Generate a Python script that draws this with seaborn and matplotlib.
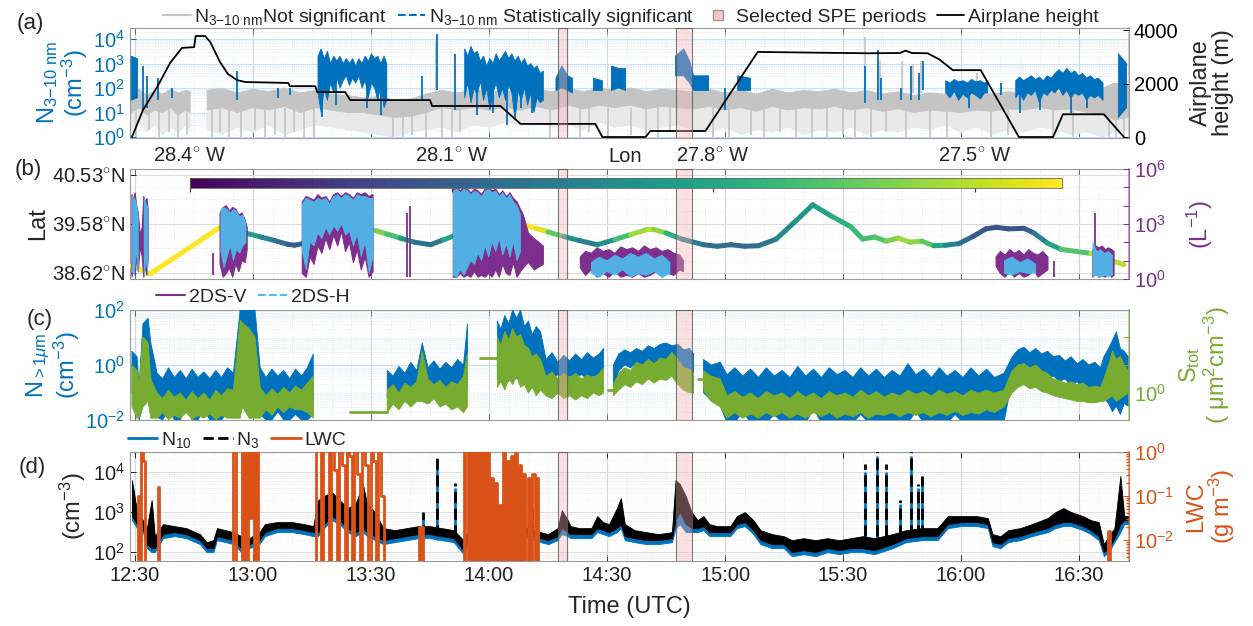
import numpy as np
import matplotlib
matplotlib.use("Agg")
import matplotlib.pyplot as plt
import seaborn as sns
from matplotlib.collections import LineCollection
from matplotlib.lines import Line2D
from matplotlib.ticker import FixedLocator, FixedFormatter, LogLocator, NullFormatter, MultipleLocator
import matplotlib.colors as mcolors
import matplotlib.cm as cm

nan = np.nan

# ---------------- data (time = minutes after 12:00 UTC, *_log = log10 of value) ----------------
time_ticks = [30, 60, 90, 120, 150, 180, 210, 240, 270]
time_labels = ["12:30", "13:00", "13:30", "14:00", "14:30", "15:00", "15:30", "16:00", "16:30"]
spe_start = [137.6, 167.4]
spe_end = [139.9, 171.7]

# (a) N3-10 not significant (grey): upper edge, dense-core lower edge, sparse floor
gray_t = [29, 31, 33, 35, 37, 39, 41, 43, 44, nan, 48.3, 52, 56, 60, 64, 68, 72, 76, 80, 84, 88, 92, 96, 100,
          104, 108, 112, 116, 120, 124, 128, 132, 136, 140, 144, 148, 152, 156, 160, 164, 168, 172, 176, 180, 184,
          188, 192, 196, 200, 204, 208, 212, 216, 220, 224, 228, 232, 236, 240, 244, 248, 252, 256, 260, 264, 268,
          272, 276, 279, 282.5]
gray_hi_log = [1.8, 1.95, 1.7, 1.9, 1.75, 1.95, 1.8, 1.9, 1.85, nan,
               1.9, 2.0, 1.8, 1.95, 1.85, 2.0, 1.8, 1.9, 1.75, 1.7, 1.6, 1.65, 1.5, 1.55, 1.75, 1.9, 1.8, 1.95,
               1.85, 1.9, 1.8, 1.95, 1.85, 2.0, 1.85, 2.0, 1.9, 2.0, 1.85, 1.95, 1.9, 1.85, 1.95, 1.8, 1.9, 1.75,
               1.95, 1.8, 1.9, 1.85, 1.95, 1.8, 1.9, 1.75, 1.85, 1.7, 1.8, 1.75, 1.7, 1.8, 1.75, 1.85, 1.8, 1.9,
               1.8, 1.85, 1.9, 2.0, 2.2, 2.1]
gray_core_log = [1.0, 1.2, 0.9, 1.1, 1.0, 1.2, 0.9, 1.1, 1.0, nan,
                 1.1, 1.2, 1.0, 1.2, 1.1, 1.25, 1.0, 1.2, 1.1, 1.0, 1.0, 0.9, 0.8, 0.85, 1.0, 1.2, 1.1, 1.2, 1.1,
                 1.2, 1.1, 1.25, 1.1, 1.3, 1.15, 1.3, 1.2, 1.3, 1.15, 1.25, 1.2, 1.15, 1.25, 1.1, 1.2, 1.05, 1.25,
                 1.1, 1.2, 1.15, 1.25, 1.1, 1.2, 1.05, 1.15, 1.0, 1.1, 1.05, 1.0, 1.1, 1.05, 1.15, 1.1, 1.2, 1.1,
                 1.15, 1.0, 0.9, 0.7, 0.8]
gray_floor_log = [0.3, 0.6, 0.2, 0.5, 0.1, 0.4, 0.2, 0.5, 0.3, nan,
                  0.3, 0.1, 0.4, 0.2, 0.5, 0.1, 0.3, 0.5, 0.4, 0.3, 0.2, 0.1, 0.0, 0.2, 0.3, 0.4, 0.2, 0.5, 0.4,
                  0.6, 0.5, 0.6, 0.4, 0.5, 0.3, 0.6, 0.4, 0.5, 0.3, 0.4, 0.5, 0.3, 0.2, 0.4, 0.1, 0.3, 0.2, 0.4,
                  0.1, 0.3, 0.2, 0.4, 0.1, 0.3, 0.2, 0.4, 0.3, 0.5, 0.2, 0.4, 0.1, 0.3, 0.2, 0.4, 0.3, 0.1, 0.2,
                  0.0, 0.2, 0.3]
gray_dip_t = [30.2, 33.5, 36, 38.5, 41, 43.2, 49.5, 51.5, 53.8, 57, 60.5, 63, 65.5, 68, 70.5, 73, 75.5, 95.5, 98,
              100.5, 104, 108, 110.5, 112.5, 135.5, 143, 145.5, 150.3, 156, 160, 163, 166, 177, 181, 186.5, 190,
              194, 198, 202, 206, 210, 213, 217, 221, 226, 232, 236.5, 247.5, 252, 263.5, 268.5, 277.5, 279.5, 281.5]
gray_dip_log = [0.0, 0.3, 0.0, 0.2, 0.0, 0.1, 0.0, 0.2, 0.0, 0.0, 0.3, 0.0, 0.1, 0.0, 0.2, 0.0, 0.0, 0.0, 0.0,
                0.1, 0.0, 0.0, 0.0, 0.2, 0.0, 0.0, 0.2, 0.0, 0.1, 0.0, 0.0, 0.3, 0.0, 0.0, 0.1, 0.0, 0.2, 0.0,
                0.0, 0.0, 0.1, 0.0, 0.0, 0.2, 0.0, 0.0, 0.0, 0.0, 0.1, 0.0, 0.0, 0.0, 0.0, 0.0]
gray_peak_t = [106.5, 215.5, 219.3, 224.9, 227.8, 229.8, 244]
gray_peak_log = [3.9, 4.1, 3.1, 3.1, 3.0, 3.1, 2.6]

# (a) N3-10 statistically significant (blue) envelope
sig_t = [29.0, 30.6, nan,
         76.5, 77.3, 78.1, 78.9, 79.7, 80.5, 81.3, 82.1, 82.9, 83.7, 84.5, 85.3, 86.1, 86.9, 87.7, 88.5, 89.3, 90.1,
         90.9, 91.7, 92.5, 93.3, 94.0, nan,
         113.8, 114.6, 115.4, 116.2, 117.0, 117.8, 118.6, 119.4, 120.2, 121.0, 121.8, 122.6, 123.4, 124.2, 125.0,
         125.8, 126.6, 127.4, 128.2, 129.0, 129.8, 130.6, 131.4, 132.2, 133.0, 133.8, nan,
         137, 138.5, 140, 141.2, nan, 146.5, 148.8, nan, 151.1, 153, 154.7, nan, 167.4, 169.5, 171, 172, 175.8, nan,
         183.2, 186.5, nan,
         236.1, 237.2, 238.3, 239.4, 240.5, 241.6, 242.7, 243.8, 244.9, 246.0, 246.8, nan,
         253.9, 254.9, 255.9, 256.9, 257.9, 258.9, 259.9, 260.9, 261.9, 262.9, 263.9, 264.9, 265.9, 266.9, 267.9,
         268.9, 269.9, 270.9, 271.9, 272.9, 273.9, 274.9, 276.1, nan,
         280.0, 282.1]
sig_hi_log = [3.3, 3.2, nan,
              3.3, 3.6, 3.2, 3.5, 3.0, 3.3, 3.1, 3.3, 3.0, 3.2, 3.0, 3.2, 2.9, 3.2, 3.0, 3.3, 3.1, 3.4, 3.2, 3.3,
              3.0, 3.3, 3.0, nan,
              3.6, 3.3, 3.7, 3.4, 3.5, 3.1, 3.3, 2.9, 3.2, 3.0, 3.4, 3.1, 3.3, 3.5, 3.2, 3.4, 3.1, 3.3, 3.0, 3.2,
              2.9, 3.0, 2.8, 2.9, 2.6, 2.7, nan,
              2.4, 2.9, 2.5, 2.4, nan, 2.4, 2.3, nan, 2.9, 2.8, 2.8, nan, 3.3, 3.6, 3.1, 2.5, 2.5, nan,
              2.5, 2.4, nan,
              2.3, 2.2, 2.35, 2.25, 2.3, 2.2, 2.35, 2.25, 2.3, 2.2, 2.3, nan,
              2.3, 2.45, 2.3, 2.4, 2.5, 2.35, 2.45, 2.3, 2.5, 2.4, 2.6, 2.75, 2.6, 2.8, 2.6, 2.7, 2.5, 2.6, 2.4,
              2.5, 2.35, 2.4, 2.2, nan,
              3.4, 3.0]
sig_lo_log = [1.5, 1.6, nan,
              1.8, 1.0, 2.0, 1.5, 2.2, 1.8, 2.4, 2.0, 2.3, 2.5, 2.1, 2.4, 2.2, 2.5, 2.0, 2.3, 1.6, 2.2, 2.0, 1.5,
              2.1, 1.2, 1.5, nan,
              1.6, 2.2, 1.4, 2.0, 1.7, 2.3, 1.5, 2.0, 1.1, 1.8, 2.2, 1.6, 2.0, 1.5, 2.1, 1.8, 0.7, 1.9, 1.5, 2.0,
              1.3, 1.8, 1.0, 1.6, 1.4, 1.5, nan,
              1.9, 2.0, 1.9, 1.8, nan, 1.9, 1.9, nan, 1.9, 2.0, 1.9, nan, 2.5, 2.5, 2.2, 1.9, 1.9, nan,
              1.9, 1.9, nan,
              1.8, 1.6, 1.85, 1.5, 1.75, 1.6, 1.8, 1.7, 1.55, 1.8, 1.8, nan,
              1.6, 1.8, 1.5, 1.8, 1.7, 1.9, 1.4, 1.8, 1.7, 1.9, 1.8, 2.0, 1.7, 1.9, 1.6, 1.8, 1.7, 1.8, 1.5, 1.7,
              1.6, 1.7, 1.5, nan,
              0.8, 1.2]
sig_spk_t = [32.0, 33.0, 35.8, 39.4, 56.0, 66.4, 69.4, 103.0, 106.8, 111.4, 77.5, 81, 89, 92.5, 117, 121,
             124.5, 128, 131, 180.1, 215.7, 218.8, 219.6, 224.7, 227.2, 229.3, 230.3, 250.1, 255, 260, 268, 272, 242]
sig_spk_lo = [1.1, 1.2, 1.5, 1.6, 1.5, 1.6, 1.7, 1.5, 1.9, 1.1, 0.8, 1.3, 1.2, 0.9, 0.9, 1.0,
              0.5, 1.2, 1.0, 1.1, 1.4, 1.5, 1.5, 1.5, 1.5, 1.5, 1.9, 1.7, 1.0, 1.1, 1.0, 1.2, 1.2]
sig_spk_hi = [2.9, 2.5, 2.4, 2.0, 2.7, 2.0, 2.0, 2.5, 4.2, 3.4, 2.5, 2.5, 2.5, 2.5, 2.2, 2.2,
              2.2, 2.2, 2.0, 2.0, 2.9, 3.55, 2.4, 2.0, 2.9, 2.6, 3.1, 2.2, 2.0, 2.0, 2.2, 2.0, 2.0]

# (a) airplane height (m)
height_t = [29.2, 32.0, 35.6, 38.9, 41.9, 45.0, 45.4, 47.8, 49.1, 51.6, 53.6, 55.9, 58.0, 68.9, 69.4, 75.8, 76.3,
            83.4, 84.7, 105.0, 105.5, 122.9, 128.0, 147.0, 148.8, 159.8, 161.0, 175.0, 188.3, 205.0, 216.5, 224.5,
            225.9, 227.5, 231.5, 234.5, 237.9, 245.0, 254.7, 263.4, 265.9, 276.3, 281.4]
height_m = [0, 1010, 1870, 2770, 3330, 3360, 3775, 3775, 3550, 2800, 2355, 2130, 2055, 2020, 1900, 1900, 1680,
            1680, 1380, 1380, 1160, 1160, 490, 490, 0, 0, 225, 225, 3180, 3150, 3130, 3140,
            3230, 3140, 3130, 2900, 2500, 2500, 0, 0, 850, 850, 0]

# (b) flight track: latitude and longitude (deg E)
trk_t = [29.2, 33.8, 51.6, 54.0, 56.5, 58.5, 62.0, 65.5, 68.7, 70.5, 72.5, 76.0, 80.0, 84.7, 86.5, 90.0, 94.0,
         97.4, 101.0, 105.1, 108.5, 112.0, 116.0, 122.1, 126.2, 132.0, 135.0, 139.0, 143.0, 147.5, 152.0, 156.0,
         160.3, 161.8, 165.0, 169.0, 174.5, 178, 181.5, 185, 188.5, 193.0, 197.5, 202.3, 207.0, 212.0, 215.0,
         218.0, 221.0, 224.0, 227.0, 230.0, 233.1, 236.0, 239.4, 243.0, 246.3, 249, 252, 256.0, 258.5, 262.0,
         265.4, 273.0, 281.4]
trk_lat = [38.76, 38.60, 39.51, 39.47, 39.43, 39.39, 39.32, 39.25, 39.18, 39.16, 39.19, 39.28, 39.38, 39.56,
           39.54, 39.47, 39.38, 39.30, 39.22, 39.17, 39.27, 39.37, 39.50, 39.65, 39.62, 39.49, 39.42, 39.33,
           39.25, 39.17, 39.27, 39.37, 39.47, 39.47, 39.40, 39.28, 39.17, 39.14, 39.17, 39.14, 39.15, 39.28,
           39.60, 39.95, 39.73, 39.52, 39.28, 39.32, 39.24, 39.30, 39.22, 39.24, 39.15, 39.16, 39.19, 39.33,
           39.48, 39.51, 39.48, 39.49, 39.40, 39.20, 39.08, 39.00, 38.78]
trk_lon = [-27.4, -27.4, -27.4, -27.5, -27.7, -27.8, -27.9, -28.0, -28.1, -28.1, -28.1, -27.95, -27.8, -27.5,
           -27.5, -27.55, -27.65, -27.75, -27.95, -28.1, -27.9, -27.7, -27.45, -27.4, -27.4, -27.4, -27.5, -27.8,
           -27.95, -28.0, -27.8, -27.6, -27.5, -27.5, -27.65, -27.9, -28.05, -28.05, -28.05, -28.05, -28.05,
           -27.95, -27.9, -27.85, -27.8, -27.75, -27.7, -27.7, -27.65, -27.55, -27.55, -27.6, -27.7, -27.9,
           -28.0, -28.1, -28.15, -28.15, -28.15, -28.15, -28.05, -27.9, -27.75, -27.6, -27.4]
lon_ticks = [-28.4, -28.1, -27.8, -27.5]
lon_labels = ["28.4$^{\\circ}$ W", "28.1$^{\\circ}$ W", "27.8$^{\\circ}$ W", "27.5$^{\\circ}$ W"]
lat_ticks = [38.62, 39.58, 40.53]
lat_labels = ["38.62$^{\\circ}$N", "39.58$^{\\circ}$N", "40.53$^{\\circ}$N"]

# (b) 2DS-V and 2DS-H concentrations (L-1)
dsv_t = [29.2, 29.6, 30.0, 30.4, 30.8, 31.3, 31.8, 32.2, 32.6, 33.0, 33.3, nan,
         51.6, 52.4, 53.2, 54.0, 54.8, 55.6, 56.4, 57.2, 58.0, 58.5, nan,
         72.5, 73.5, 74.5, 75.5, 76.5, 77.5, 78.5, 79.5, 80.5, 81.5, 82.5, 83.5, 84.5, 85.5, 86.5, 87.5, 88.5,
         89.5, 90.5, nan,
         110.9, 111.8, 112.7, 113.6, 114.5, 115.4, 116.3, 117.2, 118.1, 119.0, 119.9, 120.8, 121.7, 122.6, 123.5,
         124.4, 125.3, 126.2, 127.1, 128.0, 128.7, 130, 131.5, 133.8, nan,
         143.2, 144.5, 146, 147.5, 149, 150.5, 152, 153.5, 155, 156.5, 158, 159.5, 161, 162.5, 164, 165.5, 167,
         168.5, 169.4, nan,
         248.9, 250, 251.2, 252.4, 253.6, 254.8, 256, 257.2, 258.4, 259.6, 260.8, 262.1, nan,
         273.5, 274.3, 275.1, 275.9, 276.7, 277.5, 278.3, 278.9]
dsv_hi_log = [4.6, 4.3, 4.7, 4.0, 3.6, 2.4, 2.8, 4.5, 4.2, 4.4, 3.8, nan,
              3.6, 3.9, 4.0, 3.7, 3.9, 3.8, 3.5, 3.6, 3.2, 2.8, nan,
              4.2, 4.5, 4.4, 4.3, 4.6, 4.4, 4.5, 4.2, 4.6, 4.7, 4.5, 4.7, 4.6, 4.4, 4.7, 4.6, 4.7, 4.5, 4.6, nan,
              4.9, 5.0, 4.8, 5.0, 4.9, 4.7, 4.9, 4.8, 4.6, 4.9, 5.0, 4.8, 4.9, 4.6, 4.8, 4.5, 4.7, 4.4, 4.2, 3.8,
              3.5, 2.5, 2.2, 1.8, nan,
              1.2, 1.5, 1.4, 1.7, 1.5, 1.6, 1.4, 1.75, 1.6, 1.7, 1.5, 1.8, 1.6, 1.7, 1.5, 1.6, 1.4, 1.3, 1.0, nan,
              1.2, 1.5, 1.3, 1.6, 1.4, 1.55, 1.3, 1.6, 1.4, 1.3, 1.5, 1.2, nan,
              1.6, 1.8, 1.7, 1.8, 1.6, 1.7, 1.6, 1.5]
dsv_lo_log = [0.1, 0.8, 0.2, 1.2, 0.4, 1.8, 1.2, 0.1, 0.7, 0.2, 1.0, nan,
              0.8, 0.1, 0.3, 0.6, 0.1, 0.8, 0.4, 1.0, 0.9, 1.6, nan,
              0.3, 0.1, 1.2, 0.8, 1.8, 1.4, 2.2, 1.6, 2.4, 1.8, 2.6, 1.5, 2.0, 0.9, 1.6, 0.5, 1.2, 0.1, 0.4, nan,
              0.1, 0.1, 0.3, 0.1, 0.2, 0.1, 0.4, 0.1, 0.2, 0.1, 0.3, 0.1, 0.5, 0.1, 0.8, 0.3, 0.2, 0.9, 0.1, 0.4,
              0.6, 0.9, 0.5, 0.8, nan,
              0.6, 0.2, 0.5, 0.1, 0.3, 0.1, 0.4, 0.1, 0.2, 0.1, 0.3, 0.1, 0.2, 0.4, 0.1, 0.3, 0.2, 0.5, 0.4, nan,
              0.7, 0.3, 0.1, 0.4, 0.1, 0.3, 0.1, 0.2, 0.5, 0.1, 0.3, 0.5, nan,
              0.1, 0.3, 0.1, 0.2, 0.1, 0.3, 0.1, 0.2]
dsv_spk_t = [49.8, 99.2, 100.0, 263.6, 274.0]
dsv_spk_lo = [0.2, 0.1, 0.1, 0.1, 1.5]
dsv_spk_hi = [1.4, 3.6, 4.0, 1.0, 3.6]
dsh_t = [29.3, 29.8, 30.3, 30.8, nan, 32.3, 32.8, 33.2, nan,
         51.8, 52.6, 53.4, 54.2, 55.0, 55.8, 56.6, 57.4, 58.2, nan,
         72.5, 73.5, 74.5, 75.5, 76.5, 77.5, 78.5, 79.5, 80.5, 81.5, 82.5, 83.5, 84.5, 85.5, 86.5, 87.5, 88.5,
         89.5, 90.5, nan,
         110.9, 111.8, 112.7, 113.6, 114.5, 115.4, 116.3, 117.2, 118.1, 119.0, 119.9, 120.8, 121.7, 122.6, 123.5,
         124.4, 125.3, 126.2, 127.1, 128.0, nan,
         146, 148, 150, 152, 154, 156, 158, 160, 162, 164, 166, nan,
         251, 253, 255, 257, 259, nan,
         273.5, 274.5, 275.5, 276.5, 277.5, 278.5]
dsh_hi_log = [4.5, 4.4, 4.2, 3.4, nan, 4.4, 4.1, 3.9, nan,
              3.8, 3.9, 3.8, 3.6, 3.8, 3.7, 3.4, 3.5, 3.0, nan,
              4.1, 4.4, 4.3, 4.2, 4.4, 4.3, 4.4, 4.1, 4.5, 4.6, 4.4, 4.6, 4.5, 4.3, 4.6, 4.5, 4.5, 4.4, 4.4, nan,
              4.8, 4.9, 4.7, 4.9, 4.8, 4.6, 4.8, 4.7, 4.5, 4.8, 4.9, 4.7, 4.8, 4.5, 4.7, 4.4, 4.6, 4.2, 4.0, 3.5,
              nan,
              0.9, 1.2, 1.0, 1.3, 1.1, 1.4, 1.2, 1.4, 1.1, 1.3, 0.9, nan,
              1.0, 1.2, 0.9, 1.1, 0.8, nan,
              2.0, 1.5, 1.6, 1.4, 1.5, 1.3]
dsh_lo_log = [0.4, 0.2, 1.6, 0.3, nan, 0.2, 1.0, 0.4, nan,
              1.5, 0.6, 1.2, 1.8, 1.0, 1.6, 1.4, 1.8, 2.0, nan,
              1.5, 0.5, 2.0, 1.8, 2.5, 2.2, 2.8, 2.4, 2.9, 2.6, 3.0, 2.4, 2.6, 1.8, 2.4, 1.2, 2.0, 0.3, 1.2, nan,
              0.2, 0.1, 0.5, 0.2, 0.6, 1.0, 0.8, 1.4, 1.0, 1.8, 1.2, 2.0, 1.5, 2.2, 1.3, 1.9, 1.2, 2.0, 1.0, 1.5,
              nan,
              0.3, 0.1, 0.4, 0.2, 0.5, 0.1, 0.3, 0.2, 0.4, 0.1, 0.3, nan,
              0.3, 0.2, 0.4, 0.3, 0.3, nan,
              0.1, 0.2, 0.1, 0.2, 0.1, 0.2]

# (c) N>1um (cm-3, left axis) and S_tot (um2 cm-3, right axis) on a shared time grid
c_t = [29.2, 30.5, 31.0, 32.0, 33.3, 34.0, 35.6, 37, 38.5, 40, 41.5, 43, 44.5, 46, 47.5, 49, 50.5, 52, 53.5, 55,
       56.7, 57.3, 59, 60.5, 61.8, 63.3, 64.8, 66.3, 67.8, 69.3, 70.8, 72.3, 73.8, 75.3, nan,
       94.1, 95.6, 97.1, 98.6, 100.1, 101.6, 103.0, 104.5, 106, 107.5, 109, 110.5, 112, 113.5, 114.5, nan,
       122.1, 123, 124, 125, 126, 127, 128, 129, 130, 131, 132, 133.1, 134.5, 136, 137.5, 139, 140.5, 142, 143.5,
       145, 146.5, 148, 149.1, nan,
       151.6, 153, 154.5, 156, 157.5, 159, 160.5, 162, 163.5, 165, 166.5, 168, 169.5, 171, 172, nan,
       174.5, 176.5, 178.8, 180.5, 182.5, 184.5, 186.5, 188.5, 190.5, 192.5, 194.5, 196.5, 198.5, 200.5, 202.5,
       204.5, 206.5, 208.5, 210.5, 212.5, 214.5, 216.5, 218.5, 220.5, 222.5, 224.5, 226.5, 228.5, 230.5, 232.5,
       234.5, 236.5, 238.5, 240.5, 242.5, 244.5, 246.5, 248.5, 250.9, 253, 254.5, 256, 257.5, 259, 260.5, 262,
       263.5, 265, 266.5, 268, 269.5, 271, 272.5, 274, 275.5, 276.3, 277.5, 278.5, 279.5, 280.5, 281.5, 282.5]
n1_hi_log = [0.5, 0.3, -0.8, 1.5, 1.7, 0.8, -0.3, -0.5, -0.1, -0.45, -0.2, -0.5, -0.15, -0.45, -0.25, -0.5, -0.2,
             -0.45, -0.1, -0.3, 2.0, 2.0, 2.0, 2.0, -0.1, -0.45, -0.15, -0.4, -0.2, -0.5, -0.15, -0.4, -0.1, 0.4,
             nan,
             -0.2, -0.4, -0.05, -0.3, 0.1, -0.2, 0.8, -0.1, 0.15, -0.15, 0.1, -0.1, 0.2, 0.0, 1.5, nan,
             1.6, 1.3, 1.8, 1.5, 2.0, 1.7, 2.0, 1.4, 1.6, 1.1, 1.4, 1.2, 0.2, 0.45, 0.1, 0.35, 0.15, 0.4, 0.2, 0.45,
             0.25, 0.4, 0.6, nan,
             0.0, 0.4, 0.55, 0.45, 0.6, 0.5, 0.7, 0.6, 0.75, 0.8, 0.7, 0.75, 0.55, 0.6, 0.4, nan,
             0.2, 0.0, 0.1, -0.35, -0.1, -0.4, -0.15, -0.45, -0.1, -0.4, -0.2, -0.45, -0.05, -0.4, -0.15, -0.45,
             -0.1, -0.35, -0.2, -0.45, -0.1, -0.4, -0.15, -0.45, -0.2, -0.4, 0.05, -0.35, -0.15, -0.45, -0.1, -0.4,
             -0.2, -0.45, -0.1, -0.4, -0.15, -0.45, -0.3,
             0.3, 0.55, 0.65, 0.45, 0.6, 0.4, 0.5, 0.3, 0.35, 0.15, 0.3, 0.05, 0.2, 0.0, 0.1, -0.1,
             0.3, 0.6, 0.9, 1.2, 0.6, 0.5, 0.3]
n1_lo_log = [-1.0, -1.2, -2.0, -1.5, -0.8, -1.0, -1.9, -2.0, -1.6, -2.0, -2.0, -1.5, -2.0, -2.0, -1.6, -2.0, -2.0,
             -2.0, -1.7, -1.8, -1.0, -0.5, -0.8, -1.0, -1.8, -2.0, -2.0, -1.7, -2.0, -2.0, -1.8, -2.0, -2.0, -1.8,
             nan,
             -1.2, -0.9, -1.1, -0.9, -1.0, -0.8, -0.9, -1.0, -0.8, -0.9, -1.0, -0.8, -1.0, -0.9, -0.8, nan,
             -0.5, -0.1, -0.3, -0.6, -0.2, -0.5, -0.4, -0.7, -0.5, -0.8, -0.6, -0.8, -0.4, -0.5, -0.35, -0.5, -0.4,
             -0.45, -0.35, -0.5, -0.4, -0.45, -0.3, nan,
             -0.8, -0.2, 0.0, -0.1, 0.1, 0.0, 0.15, 0.05, 0.2, 0.15, 0.25, 0.1, -0.1, -0.2, -0.3, nan,
             -1.0, -1.3, -1.5, -2.1, -2.1, -1.7, -2.1, -2.1, -2.1, -1.8, -2.1, -2.1, -2.1, -2.1, -1.6, -2.1, -2.1,
             -2.1, -2.1, -2.1, -1.8, -2.1, -2.1, -2.1, -2.1, -2.1, -2.1, -1.7, -2.1, -2.1, -2.1, -2.1, -1.8, -2.1,
             -2.1, -2.1, -2.1, -2.1, -2.1,
             -0.5, -0.3, -0.4, -0.2, -0.45, -0.3, -0.5, -0.4, -0.6, -0.5, -0.8, -0.6, -0.9, -0.8, -1.0, -0.9,
             -1.2, -1.4, -1.7, -1.5, -1.8, -1.4, -1.5]
st_hi_log = [1.0, 0.8, 0.3, 2.0, 1.8, 0.5, 0.0, -0.2, 0.1, -0.15, 0.0, -0.25, 0.05, -0.2, 0.0, -0.25, 0.1, -0.1,
             0.15, 0.1, 2.6, 2.5, 2.3, 2.0, 0.2, -0.1, 0.15, -0.05, 0.2, 0.0, 0.25, 0.1, 0.35, 0.6, nan,
             0.1, 0.3, 0.0, 0.35, 0.2, 0.4, 1.5, 0.5, 0.3, 0.45, 0.2, 0.4, 0.3, 0.6, 1.4, nan,
             2.0, 1.7, 2.2, 1.9, 2.3, 2.0, 2.1, 1.7, 1.6, 1.3, 1.4, 1.2, 0.6, 0.75, 0.5, 0.7, 0.55, 0.7, 0.5, 0.65,
             0.55, 0.7, 0.9, nan,
             0.3, 0.7, 0.9, 0.8, 1.1, 1.0, 1.2, 1.05, 1.25, 1.2, 1.45, 1.2, 0.9, 0.85, 0.7, nan,
             0.8, 0.6, 0.5, -0.1, 0.05, -0.15, 0.0, -0.2, 0.05, -0.1, 0.0, -0.2, 0.05, -0.15, 0.0, -0.2, 0.05,
             -0.1, 0.0, -0.15, 0.1, -0.1, 0.05, -0.15, 0.0, -0.1, 0.1, -0.05, 0.05, -0.1, 0.1, -0.05, 0.05, -0.1,
             0.1, 0.0, 0.1, 0.0, 0.1,
             0.8, 1.0, 1.05, 0.9, 1.0, 0.8, 0.7, 0.5, 0.45, 0.35, 0.4, 0.3, 0.35, 0.2, 0.25, 0.2,
             0.5, 1.0, 1.5, 1.2, 1.3, 1.0, 0.8]
st_lo_log = [-0.5, -0.9, -0.9, -0.5, -0.3, -0.9, -0.9, -0.7, -0.95, -0.8, -0.9, -0.7, -0.95, -0.8, -0.9, -0.75,
             -0.95, -0.8, -0.9, -0.9, -0.9, -0.5, -0.9, -0.9, -0.9, -0.6, -0.8, -0.5, -0.7, -0.5, -0.6, -0.6, -0.7,
             -0.9, nan,
             -0.7, -0.4, -0.6, -0.3, -0.5, -0.3, -0.3, -0.4, -0.2, -0.5, -0.4, -0.6, -0.5, -0.7, -0.5, nan,
             0.2, 0.4, 0.1, 0.5, 0.3, 0.6, 0.2, 0.3, 0.0, 0.2, -0.1, 0.1, -0.1, -0.2, 0.0, -0.2, -0.1, -0.25,
             -0.1, -0.2, 0.0, -0.1, 0.0, nan,
             -0.1, 0.1, 0.3, 0.2, 0.4, 0.3, 0.5, 0.35, 0.5, 0.45, 0.6, 0.3, 0.1, 0.0, 0.0, nan,
             0.1, -0.3, -0.5, -0.9, -0.7, -0.9, -0.75, -0.9, -0.7, -0.85, -0.7, -0.9, -0.75, -0.9, -0.7, -0.85,
             -0.7, -0.9, -0.75, -0.85, -0.7, -0.9, -0.75, -0.8, -0.7, -0.85, -0.7, -0.8, -0.7, -0.85, -0.7, -0.8,
             -0.65, -0.8, -0.7, -0.75, -0.6, -0.7, -0.5,
             0.0, 0.2, 0.3, 0.15, 0.2, 0.05, 0.0, -0.1, -0.15, -0.2, -0.25, -0.3, -0.3, -0.35, -0.35, -0.3,
             -0.3, -0.2, -0.1, -0.3, -0.2, -0.1, 0.0]
st_flat_t = [84.7, 94.1, nan, 117.8, 122.1, nan, 150.3, 151.6, nan, 173.2, 175.0]
st_flat_log = [-0.67, -0.67, nan, 1.25, 1.25, nan, 0.1, 0.1, nan, 0.5, 0.5]

# (d) N3 and N10 (cm-3) envelopes
nd_t = [29.2, 30.5, 32.0, 33.0, 34.2, 35.0, 37.1, 40.0, 43.0, 46.5, 48.2, 49.9, 50.8, 53.0, 55.0, 57.0, 59.0,
        61.6, 63.0, 66.0, 70.0, 73.0, 75.3, 76.5, 78.0, 80.0, 82.0, 84.0, 86.0, 87.9, 89.0, 91.0, 93.1, 96.0,
        99.0, 102.0, 105.0, 108.0, 111.0, 113.5, 115.0, 118.0, 121.0, 124.0, 127.0, 130.0, 133.1, 135.0, 137.4,
        138.5, 140.0, 140.7, 143.0, 146.0, 147.5, 149.0, 150.5, 152.5, 153.5, 154.5, 157.0, 160.0, 163.0, 166.5,
        167.4, 168.5, 170.0, 171.5, 173.0, 174.5, 176.0, 178.0, 181.3, 183.0, 185.0, 187.2, 189.0, 192.0, 194.9,
        197.0, 200.0, 203.0, 206.0, 209.0, 212.0, 215.0, 218.0, 222.6, 226.0, 230.0, 234.0, 236.6, 240.0, 244.0,
        246.8, 248.0, 250.0, 252.0, 255.0, 258.0, 262.0, 264.0, 266.0, 268.0, 271.0, 273.0, 275.0, 276.3, 277.5,
        279.0, 280.5, 281.5, 282.5]
n3_hi_log = [3.8, 3.0, 2.8, 2.6, 3.3, 2.4, 2.7, 2.65, 2.6, 2.45, 2.25, 2.3, 2.6, 2.55, 2.5, 2.4, 2.35,
             2.5, 2.7, 2.75, 2.75, 2.7, 2.65, 3.3, 3.4, 3.5, 3.3, 3.1, 3.2, 3.7, 3.2, 3.0, 2.6, 2.55,
             2.6, 2.65, 2.65, 2.6, 2.55, 2.3, 2.6, 2.65, 2.65, 2.6, 2.65, 2.6, 2.5, 2.45, 2.6,
             3.05, 2.8, 2.65, 2.6, 2.6, 2.9, 2.75, 2.7, 3.1, 3.35, 2.7, 2.55, 2.5, 2.45, 2.5,
             3.8, 3.7, 3.4, 3.0, 2.8, 2.9, 2.7, 2.65, 2.65, 2.9, 3.0, 2.8, 2.55, 2.45, 2.4,
             2.3, 2.35, 2.3, 2.35, 2.3, 2.35, 2.4, 2.35, 2.45, 2.55, 2.6, 2.6, 2.9, 2.9, 2.9,
             2.85, 2.45, 2.4, 2.55, 2.6, 2.7, 2.85, 3.0, 3.1, 3.0, 2.9, 2.8, 2.75, 2.2, 2.4,
             2.6, 3.9, 2.9, 2.9]
n3_lo_log = [2.9, 2.7, 2.6, 2.2, 2.1, 2.1, 2.45, 2.5, 2.45, 2.3, 2.1, 2.1, 2.4, 2.35, 2.3, 2.1, 2.2,
             2.3, 2.5, 2.6, 2.6, 2.55, 2.5, 2.5, 2.7, 2.9, 2.8, 2.6, 2.5, 2.6, 2.5, 2.4, 2.3, 2.35,
             2.4, 2.45, 2.45, 2.4, 2.35, 2.05, 2.4, 2.45, 2.45, 2.45, 2.45, 2.45, 2.35, 2.3, 2.4,
             2.6, 2.5, 2.45, 2.45, 2.45, 2.6, 2.55, 2.5, 2.6, 2.7, 2.4, 2.35, 2.3, 2.3, 2.35,
             2.8, 3.0, 2.7, 2.6, 2.6, 2.65, 2.5, 2.5, 2.5, 2.7, 2.75, 2.55, 2.3, 2.2, 2.2,
             2.0, 2.05, 2.0, 2.1, 2.05, 2.1, 2.1, 2.05, 2.2, 2.35, 2.4, 2.4, 2.7, 2.75, 2.75,
             2.7, 2.25, 2.2, 2.35, 2.4, 2.5, 2.6, 2.7, 2.75, 2.75, 2.65, 2.55, 2.4, 2.0, 2.1,
             2.35, 2.7, 2.8, 2.8]
n10_hi_log = [3.75, 2.95, 2.75, 2.55, 3.25, 2.35, 2.65, 2.6, 2.55, 2.4, 2.2, 2.25, 2.55, 2.5, 2.45, 2.35, 2.3,
              2.45, 2.65, 2.7, 2.7, 2.65, 2.6, 3.25, 3.35, 3.45, 3.25, 3.05, 3.15, 3.65, 3.15, 2.95, 2.55, 2.5,
              2.55, 2.6, 2.6, 2.55, 2.5, 2.25, 2.55, 2.6, 2.6, 2.55, 2.6, 2.55, 2.45, 2.4, 2.55,
              3.0, 2.75, 2.6, 2.55, 2.55, 2.85, 2.7, 2.65, 3.05, 3.3, 2.65, 2.5, 2.45, 2.4, 2.45,
              3.6, 3.5, 3.2, 2.95, 2.75, 2.85, 2.65, 2.6, 2.6, 2.85, 2.95, 2.75, 2.5, 2.4, 2.35,
              2.25, 2.3, 2.25, 2.3, 2.25, 2.3, 2.35, 2.3, 2.4, 2.5, 2.55, 2.55, 2.85, 2.85, 2.85,
              2.8, 2.4, 2.35, 2.5, 2.55, 2.65, 2.8, 2.95, 3.05, 2.95, 2.85, 2.75, 2.7, 2.15, 2.35,
              2.55, 3.6, 2.85, 2.85]
n10_lo_log = [2.8, 2.6, 2.5, 2.1, 2.0, 2.0, 2.35, 2.4, 2.35, 2.2, 2.0, 2.0, 2.3, 2.25, 2.2, 2.0, 2.1,
              2.2, 2.4, 2.5, 2.5, 2.45, 2.4, 2.4, 2.6, 2.8, 2.7, 2.5, 2.4, 2.5, 2.4, 2.3, 2.2, 2.25,
              2.3, 2.35, 2.35, 2.3, 2.25, 1.95, 2.3, 2.35, 2.35, 2.35, 2.35, 2.35, 2.25, 2.2, 2.3,
              2.45, 2.4, 2.35, 2.35, 2.35, 2.5, 2.45, 2.4, 2.5, 2.6, 2.3, 2.25, 2.2, 2.2, 2.25,
              2.6, 2.7, 2.5, 2.5, 2.5, 2.55, 2.4, 2.4, 2.4, 2.6, 2.65, 2.45, 2.2, 2.1, 2.1,
              1.9, 1.95, 1.9, 2.0, 1.95, 2.0, 2.0, 1.95, 2.1, 2.25, 2.3, 2.3, 2.6, 2.65, 2.65,
              2.6, 2.15, 2.1, 2.25, 2.3, 2.4, 2.5, 2.6, 2.65, 2.65, 2.55, 2.45, 2.3, 1.9, 2.0,
              2.25, 2.5, 2.7, 2.7]
nd_spk_t = [103.3, 106.8, 111.4, 119.6, 122.1, 124.6, 126.7, 131.0, 132.3, 215.6, 218.6, 221.0, 224.4, 227.3,
            229.0, 230.0]
n3_spk_log = [3.0, 4.35, 3.72, 3.55, 3.22, 4.0, 3.72, 3.1, 3.1, 4.2, 4.55, 4.2, 3.3, 4.55, 3.7, 3.9]
n10_spk_log = [2.9, 4.2, 3.6, 3.4, 3.1, 3.9, 3.6, 3.0, 3.0, 4.0, 4.4, 4.0, 3.2, 4.4, 3.6, 3.8]

# (d) LWC (g m-3)
lwc_t = [30.5, 30.9, 31.3, 31.7, 32.3, 32.7, nan, 35.5, 35.9, 36.3, nan,
         54.7, 55.0, 55.4, 55.8, 56.9, 57.2, 57.6, 58.0, 58.5, 59.0, 59.6, 60.0, 60.6, 61.0, 61.3, nan,
         75.8, 76.0, 77.0, 77.5, 78.0, 79.0, 79.5, 80.0, 81.0, 81.5, 82.0, 83.0, 83.5, 84.0, 85.0, 85.5, 86.0,
         87.0, 87.3, 88.0, 89.0, 89.6, 90.1, 91.0, 91.5, 92.0, 93.0, 93.5, 94.1, nan,
         102.0, 102.3, 102.6, 103.0, 103.3, nan,
         113.5, 113.7, 114.3, 114.8, 115.3, 115.8, 116.3, 116.8, 117.3, 117.8, 118.3, 118.8, 119.3, 119.8, 120.2,
         120.8, 121.3, 121.8, 122.3, 122.8, 123.3, 123.8, 124.3, 124.8, 125.3, 125.8, 126.3, 126.8, 127.3, 127.8,
         128.3, 128.9, 129.5, 130.1, 130.7, 131.3, 131.9, 132.3, 132.6, nan,
         277.3, 277.6, 278.0]
lwc_log = [-3, -1.0, -3, 0.0, -0.2, -3, nan, -3, -0.8, -3, nan,
           -3, 0.3, 0.3, -3, -3, 0.3, -2.5, 0.3, -3, 0.3, -1.5, 0.3, -3, 0.2, -3, nan,
           -3, 0.3, 0.3, -3, 0.3, 0.1, -3, 0.2, -0.4, -3, 0.2, -0.3, -3, 0.2, -0.1, -2.5, 0.3,
           -0.5, -3, 0.1, -0.3, -3, 0.3, -0.2, -3, 0.1, -1.0, -3, -3, nan,
           -3, -1.7, -3, -1.7, -3, nan,
           -3, 0.1, -3, 0.1, -3, 0.0, -3, 0.1, -3, 0.0, -3, 0.1, -2.5, 0.0, -3,
           -0.6, -3, -0.7, -3, -1.2, -3, 0.0, -3, -0.2, -3, -0.1, -3, 0.0, -3, -0.3,
           -3, -0.5, -3, -0.6, -3, -0.5, -3, -0.6, -3, nan,
           -3, -1.8, -3]

# ---------------- style ----------------
BLUE = "#0072BD"; ORANGE = "#D95319"; PURPLE = "#7E2F8E"; GREEN = "#77AC30"
LBLUE = "#4DBEEE"; GREY = "#C4C4C4"; GREY_LIGHT = "#E9E9E9"

sns.set_theme(style="white")
plt.rcParams["font.family"] = ["Liberation Sans", "DejaVu Sans"]
plt.rcParams["mathtext.fontset"] = "custom"
plt.rcParams["mathtext.rm"] = "Liberation Sans"
plt.rcParams["mathtext.it"] = "Liberation Sans:italic"
plt.rcParams["mathtext.bf"] = "Liberation Sans:bold"
plt.rcParams["axes.unicode_minus"] = True

TICK = 14.5
LAB = 17
LEG = 14

W, H = 1253, 626
fig = plt.figure(figsize=(W / 100, H / 100), dpi=100)


def rect(l, t, r, b):
    return [l / W, 1 - b / H, (r - l) / W, (b - t) / H]


def L(v):
    return 10 ** np.asarray(v, dtype=float)


def base_style(ax, gridcolor="#dcdcdc"):
    ax.set_xlim(28.7, 282.7)
    ax.set_xticks(time_ticks)
    ax.xaxis.set_minor_locator(MultipleLocator(5))
    ax.set_xticklabels([])
    ax.tick_params(axis="both", which="both", direction="in", labelsize=TICK, color="#666666")
    ax.tick_params(axis="x", which="both", top=True, bottom=True)
    ax.tick_params(which="major", length=4, width=0.7)
    ax.tick_params(which="minor", length=0)
    ax.grid(True, which="major", axis="x", color="#d6d6d6", lw=0.8)
    ax.grid(True, which="minor", axis="x", color="#e4e4e4", lw=0.6, ls=":")
    ax.grid(True, which="major", axis="y", color=gridcolor, lw=0.8)
    ax.grid(True, which="minor", axis="y", color=gridcolor, lw=0.5, ls=":")
    for s in ax.spines.values():
        s.set_color("#9a9a9a")
        s.set_linewidth(0.8)
    ax.set_axisbelow(True)


def twin_style(ax2, color):
    ax2.tick_params(axis="y", which="both", direction="in", labelsize=TICK, colors=color)
    ax2.tick_params(axis="y", which="major", length=4, width=0.7)
    ax2.tick_params(axis="y", which="minor", length=2)
    for k, s in ax2.spines.items():
        s.set_visible(k == "right")
    ax2.spines["right"].set_color(color)
    ax2.spines["right"].set_alpha(0.5)


def band(ax, t, hi, lo, color, z=2, lw=0.6, alpha=1.0):
    ax.fill_between(np.asarray(t, float), L(lo), L(hi), facecolor=color, edgecolor=color,
                    lw=lw, zorder=z, alpha=alpha)


def spe(ax):
    for s, e in zip(spe_start, spe_end):
        ax.axvspan(s, e, facecolor=(0.97, 0.70, 0.70, 0.38), edgecolor=(0.35, 0.35, 0.35, 0.8),
                   lw=0.8, zorder=20)


ax_a = fig.add_axes(rect(130, 28, 1129, 138))
ax_b = fig.add_axes(rect(130, 169, 1129, 279))
ax_c = fig.add_axes(rect(130, 310, 1129, 420))
ax_d = fig.add_axes(rect(130, 452, 1129, 561))

# ---------------- (a) ----------------
base_style(ax_a, gridcolor="#cfe2f3")
ax_a.set_yscale("log")
ax_a.set_ylim(10 ** -0.04, 10 ** 4.45)
ax_a.yaxis.set_major_locator(FixedLocator([1, 10, 100, 1000, 10000]))
ax_a.yaxis.set_minor_locator(LogLocator(base=10, subs=np.arange(2, 10), numticks=20))
ax_a.yaxis.set_minor_formatter(NullFormatter())
ax_a.tick_params(axis="y", colors=BLUE)
band(ax_a, gray_t, gray_core_log, gray_floor_log, GREY_LIGHT, z=2)
band(ax_a, gray_t, gray_hi_log, gray_core_log, GREY, z=2)
ax_a.vlines(gray_dip_t, L(gray_dip_log), 10 ** 1.2, colors=GREY, lw=1.2, zorder=2)
ax_a.vlines(gray_peak_t, 10 ** 1.8, L(gray_peak_log), colors=GREY, lw=1.2, zorder=2)
band(ax_a, sig_t, sig_hi_log, sig_lo_log, BLUE, z=3)
ax_a.vlines(sig_spk_t, L(sig_spk_lo), L(sig_spk_hi), colors=BLUE, lw=1.3, zorder=3)
ax_a.set_ylabel("N$_{\\mathrm{3{-}10\\ nm}}$\n(cm$^{-3}$)", color=BLUE, fontsize=LAB, labelpad=2,
                linespacing=1.0)

ax_a2 = ax_a.twinx()
sns.lineplot(x=height_t, y=height_m, ax=ax_a2, color="black", lw=1.3, estimator=None, sort=False)
ax_a2.set_ylim(-37, 4075)
ax_a2.set_yticks([0, 2000, 4000])
twin_style(ax_a2, "black")
ax_a2.spines["right"].set_color("#9a9a9a")
ax_a2.set_ylabel("Airplane\nheight (m)", fontsize=LAB, labelpad=8, linespacing=1.0)
spe(ax_a2)

# ---------------- (b) ----------------
base_style(ax_b)
ax_b.set_ylim(38.50, 40.65)
ax_b.set_yticks(lat_ticks)
ax_b.set_yticklabels(lat_labels)
ax_b.yaxis.set_minor_locator(FixedLocator([38.86, 39.10, 39.34, 39.82, 40.06, 40.30]))
ax_b.tick_params(axis="y", colors="#222222")
norm = mcolors.Normalize(vmin=-28.4, vmax=-27.4)
cmap = plt.get_cmap("viridis")
pts = np.column_stack([trk_t, trk_lat])
segs = [pts[i:i + 2] for i in range(len(pts) - 1)]
seg_lon = [(trk_lon[i] + trk_lon[i + 1]) / 2 for i in range(len(pts) - 1)]
lc = LineCollection(segs, colors=cmap(norm(np.array(seg_lon))), linewidths=3.6, capstyle="round", zorder=3)
ax_b.add_collection(lc)
ax_b.set_ylabel("Lat", fontsize=LAB, labelpad=2)

ax_b2 = ax_b.twinx()
ax_b2.set_yscale("log")
ax_b2.set_ylim(1, 1e6)
ax_b2.yaxis.set_major_locator(FixedLocator([1, 10, 100, 1e3, 1e4, 1e5, 1e6]))
ax_b2.yaxis.set_major_formatter(FixedFormatter(["$\\mathdefault{10^{0}}$", "", "", "$\\mathdefault{10^{3}}$",
                                                "", "", "$\\mathdefault{10^{6}}$"]))
ax_b2.yaxis.set_minor_locator(FixedLocator([]))
band(ax_b2, dsv_t, dsv_hi_log, dsv_lo_log, PURPLE, z=3, lw=0.8)
ax_b2.vlines(dsv_spk_t, L(dsv_spk_lo), L(dsv_spk_hi), colors=PURPLE, lw=1.3, zorder=3)
band(ax_b2, dsh_t, dsh_hi_log, dsh_lo_log, LBLUE, z=4, lw=0.5, alpha=0.9)
twin_style(ax_b2, PURPLE)
ax_b2.set_ylabel("(L$^{-1}$)", color=PURPLE, fontsize=LAB, labelpad=14)
spe(ax_b2)

cax = fig.add_axes(rect(190, 178, 1062, 188))
cb = fig.colorbar(cm.ScalarMappable(norm=norm, cmap=cmap), cax=cax, orientation="horizontal")
cb.set_ticks(lon_ticks)
cb.set_ticklabels(lon_labels)
cax.xaxis.set_ticks_position("top")
cax.tick_params(direction="in", length=10, width=0.8, color="#333333", labelsize=TICK, pad=9)
cb.outline.set_edgecolor("#666666")
cb.outline.set_linewidth(0.6)
fig.text(625 / W, 1 - 157 / H, "Lon", ha="center", va="center", fontsize=TICK)

# ---------------- (c) ----------------
base_style(ax_c, gridcolor="#cfe2f3")
ax_c.set_yscale("log")
ax_c.set_ylim(1e-2, 1e2)
ax_c.yaxis.set_major_locator(FixedLocator([1e-2, 1, 1e2]))
ax_c.yaxis.set_minor_locator(LogLocator(base=10, subs=np.arange(1, 10), numticks=20))
ax_c.yaxis.set_minor_formatter(NullFormatter())
ax_c.tick_params(axis="y", colors=BLUE)
band(ax_c, c_t, n1_hi_log, n1_lo_log, BLUE, z=3)
ax_c.set_ylabel("N$_{>1\\mu\\mathrm{m}}$\n(cm$^{-3}$)", color=BLUE, fontsize=LAB, labelpad=2, linespacing=1.0)

ax_c2 = ax_c.twinx()
ax_c2.set_yscale("log")
ax_c2.set_ylim(10 ** -0.964, 10 ** 2.964)
ax_c2.yaxis.set_major_locator(FixedLocator([1, 10, 100]))
ax_c2.yaxis.set_major_formatter(FixedFormatter(["$\\mathdefault{10^{0}}$", "", ""]))
ax_c2.yaxis.set_minor_locator(FixedLocator([]))
band(ax_c2, c_t, st_hi_log, st_lo_log, GREEN, z=3)
ax_c2.plot(st_flat_t, L(st_flat_log), color=GREEN, lw=2, zorder=3)
twin_style(ax_c2, GREEN)
ax_c2.set_ylabel("S$_{\\mathrm{tot}}$\n( μm$^2$cm$^{-3}$)", color=GREEN, fontsize=LAB, labelpad=8,
                 linespacing=1.0)
spe(ax_c2)

# ---------------- (d) ----------------
base_style(ax_d)
ax_d.set_yscale("log")
ax_d.set_ylim(10 ** 1.78, 10 ** 4.5)
ax_d.yaxis.set_major_locator(FixedLocator([100, 1000, 10000]))
ax_d.yaxis.set_minor_locator(LogLocator(base=10, subs=np.arange(2, 10), numticks=20))
ax_d.yaxis.set_minor_formatter(NullFormatter())
ax_d.tick_params(axis="y", colors="#222222")
ax_d.set_xticklabels(time_labels)
ax_d.tick_params(axis="x", colors="#222222")
band(ax_d, nd_t, n10_hi_log, n10_lo_log, BLUE, z=3)
ax_d.vlines(nd_spk_t, 10 ** 2.3, L(n10_spk_log), colors=BLUE, lw=2.0, zorder=3)
band(ax_d, nd_t, n3_hi_log, n3_lo_log, "black", z=4)
ax_d.vlines(nd_spk_t, 10 ** 2.4, L(n3_spk_log), colors="black", lw=2.0, linestyles=(0, (4, 2)), zorder=4)
ax_d.set_ylabel("(cm$^{-3}$)", fontsize=LAB, labelpad=4)
ax_d.set_xlabel("Time (UTC)", fontsize=LAB, labelpad=8)

ax_d2 = ax_d.twinx()
ax_d2.set_yscale("log")
ax_d2.set_ylim(10 ** -2.48, 1)
ax_d2.yaxis.set_major_locator(FixedLocator([1e-2, 1e-1, 1]))
ax_d2.yaxis.set_minor_locator(LogLocator(base=10, subs=np.arange(2, 10), numticks=20))
ax_d2.yaxis.set_minor_formatter(NullFormatter())
ax_d2.plot(lwc_t, L(lwc_log), color=ORANGE, lw=2.0, zorder=5, drawstyle="steps-mid")
twin_style(ax_d2, ORANGE)
ax_d2.set_ylabel("LWC\n(g m$^{-3}$)", color=ORANGE, fontsize=LAB, labelpad=8, linespacing=1.0)
spe(ax_d2)

# ---------------- legends and panel letters ----------------
hA = [Line2D([0], [0], color=GREY, lw=1.5),
      Line2D([0], [0], color=BLUE, lw=1.5, ls="--"),
      Line2D([0], [0], marker="s", color="none", markerfacecolor="#F6C8C8", markeredgecolor="#999999",
             markersize=7),
      Line2D([0], [0], color="black", lw=1.3)]
lA = ["N$_{\\mathrm{3{-}10\\ nm}}$Not significant", "N$_{\\mathrm{3{-}10\\ nm}}$ Statistically significant",
      "Selected SPE periods", "Airplane height"]
fig.legend(hA, lA, loc="center", bbox_to_anchor=(631 / W, 1 - 17 / H), ncol=4, frameon=False, fontsize=LEG,
           handlelength=1.4, handletextpad=0.2, columnspacing=0.55, borderpad=0, borderaxespad=0)

hB = [Line2D([0], [0], color=PURPLE, lw=1.5), Line2D([0], [0], color=LBLUE, lw=1.5, ls="--")]
fig.legend(hB, ["2DS-V", "2DS-H"], loc="center", bbox_to_anchor=(253 / W, 1 - 297 / H), ncol=2,
           frameon=False, fontsize=LEG, handlelength=1.5, handletextpad=0.2, columnspacing=0.6,
           borderpad=0, borderaxespad=0)

hD = [Line2D([0], [0], color=BLUE, lw=2), Line2D([0], [0], color="black", lw=2, ls="--"),
      Line2D([0], [0], color=ORANGE, lw=2)]
fig.legend(hD, ["N$_{10}$", "N$_3$", "LWC"], loc="center", bbox_to_anchor=(237 / W, 1 - 440 / H), ncol=3,
           frameon=False, fontsize=LEG, handlelength=1.5, handletextpad=0.2, columnspacing=0.6,
           borderpad=0, borderaxespad=0)

for lab, (x, y) in zip(["(a)", "(b)", "(c)", "(d)"], [(30, 23), (28, 170), (40, 319), (32, 467)]):
    fig.text(x / W, 1 - y / H, lab, ha="center", va="center", fontsize=16)

fig.savefig("out.png", dpi=100)
